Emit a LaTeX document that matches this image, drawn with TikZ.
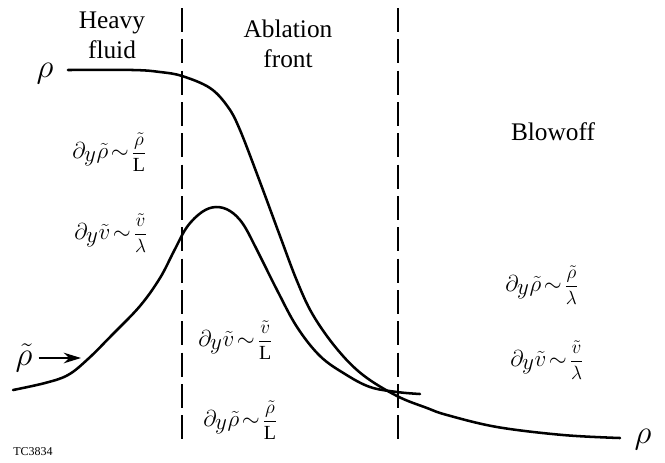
\documentclass[tikz,border=0pt]{standalone}
\usepackage{fontspec}
\setmainfont{Liberation Serif}
\usetikzlibrary{arrows.meta}
\newcommand{\apx}{\mskip2mu{\sim}\mskip2mu}
\newcommand{\dy}{\partial_{\textstyle y}}
\newcommand{\fr}[2]{\mbox{\fontsize{15}{16}\selectfont$\displaystyle\frac{#1}{#2}$}}
\begin{document}
\begin{tikzpicture}[x=0.75pt,y=-0.75pt,
  curve/.style={line width=1.9pt,line cap=round,line join=round},
  divider/.style={line width=1.2pt,dash pattern=on 18pt off 5.5pt},
  lbl/.style={inner sep=0pt,font=\fontsize{19}{23}\selectfont},
  sym/.style={inner sep=0pt,font=\fontsize{24}{28}\selectfont},
  eq/.style={inner sep=0pt,anchor=west,font=\fontsize{18}{22}\selectfont}]
\useasboundingbox (0,0) rectangle (665,462);
% dividers
\coordinate (d1t) at (182,8);  \coordinate (d1b) at (182,440);
\coordinate (d2t) at (398,8);  \coordinate (d2b) at (398,440);
\draw[divider] (d1t) -- (d1b);
\draw[divider] (d2t) -- (d2b);
% region titles
\node[lbl,anchor=base] (heavy) at (112,28) {Heavy};
\node[lbl,anchor=base] (fluid) at (112,58) {fluid};
\node[lbl,anchor=base] (abl) at (288,37) {Ablation};
\node[lbl,anchor=base] (front) at (288,67) {front};
\node[lbl,anchor=base] (blow) at (553,140) {Blowoff};
% density curve
\draw[curve] plot[smooth,tension=0.6] coordinates {(68,70) (133,70) (160,72) (182,76) (210,88) (228,107) (240,130) (260,182) (280,236) (297,281) (313,315) (337,349) (363,375) (397,396) (427,408) (447,415) (497,427) (563,435) (620,438)};
% perturbation curve
\draw[curve] plot[smooth,tension=0.6] coordinates {(13,390) (45,383) (68,375) (88,359) (112,335) (140,306) (160,278) (174,251) (187,227) (202,212) (216,207) (230,211) (243,224) (257,250) (277,290) (297,327) (320,356) (345,374) (370,387) (397,392) (420,394)};
% rho labels
\node[sym] (rhoL) at (45,74) {$\rho$};
\node[sym] (rhoR) at (643,440) {$\rho$};
\node[sym] (rhot) at (24,358) {$\tilde\rho$};
\coordinate (tip) at (81,358);
\draw[line width=1.2pt,-{Stealth[length=13pt,width=8pt]}] (rhot.east) ++(6,0) -- (tip);
% equations
\node[eq] (e1) at (72,152) {$\dy\tilde\rho\apx\fr{\tilde\rho}{\mathrm{L}}$};
\node[eq] (e2) at (74,233) {$\dy\tilde v\apx\fr{\tilde v}{\lambda}$};
\node[eq] (e3) at (198,340) {$\dy\tilde v\apx\fr{\tilde v}{\mathrm{L}}$};
\node[eq] (e4) at (203,420) {$\dy\tilde\rho\apx\fr{\tilde\rho}{\mathrm{L}}$};
\node[eq] (e5) at (505,285) {$\dy\tilde\rho\apx\fr{\tilde\rho}{\lambda}$};
\node[eq] (e6) at (510,360) {$\dy\tilde v\apx\fr{\tilde v}{\lambda}$};
% tag
\node[inner sep=0pt,anchor=west,font=\fontsize{9}{11}\selectfont] (tag) at (13,452) {TC3834};
\end{tikzpicture}
\end{document}
